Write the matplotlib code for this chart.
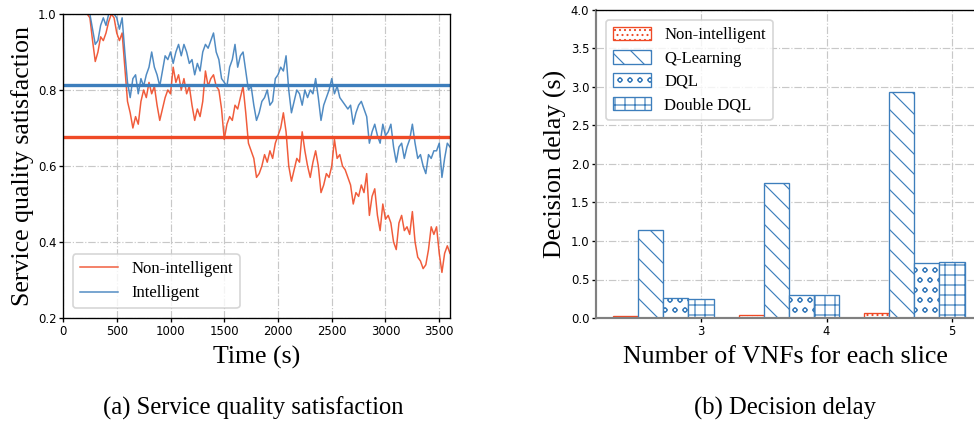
import numpy as np
import matplotlib
matplotlib.use('Agg')
import matplotlib.pyplot as plt

plt.rcParams['hatch.linewidth'] = 0.7

SERIF = ['Liberation Serif', 'DejaVu Serif']
RED = '#ef4a26'
BLUE = '#3d7ebc'

# (a) service quality satisfaction, sampled every 25 s
time_s = np.arange(0, 3601, 25)
non_intelligent = [
    1.0, 1.0, 1.0, 1.0, 1.0, 1.0, 1.0, 1.0,
    1.0, 1.0, 0.99, 0.93, 0.875, 0.90, 0.94, 0.93,
    0.95, 0.98, 1.0, 0.99, 0.95, 0.93, 0.95, 0.86,
    0.77, 0.74, 0.70, 0.73, 0.71, 0.77, 0.80, 0.78,
    0.82, 0.79, 0.81, 0.76, 0.72, 0.75, 0.78, 0.80,
    0.79, 0.86, 0.82, 0.84, 0.80, 0.83, 0.79, 0.81,
    0.76, 0.72, 0.75, 0.73, 0.77, 0.85, 0.81, 0.83,
    0.84, 0.81, 0.80, 0.75, 0.67, 0.71, 0.73, 0.72,
    0.76, 0.75, 0.78, 0.81, 0.74, 0.66, 0.64, 0.62,
    0.57, 0.58, 0.60, 0.63, 0.61, 0.64, 0.62, 0.66,
    0.68, 0.70, 0.74, 0.69, 0.60, 0.56, 0.59, 0.62,
    0.61, 0.69, 0.64, 0.60, 0.57, 0.61, 0.64, 0.60,
    0.53, 0.55, 0.58, 0.57, 0.60, 0.67, 0.62, 0.63,
    0.60, 0.59, 0.57, 0.55, 0.50, 0.53, 0.52, 0.55,
    0.53, 0.58, 0.47, 0.52, 0.54, 0.47, 0.43, 0.50,
    0.46, 0.47, 0.45, 0.40, 0.38, 0.45, 0.47, 0.43,
    0.44, 0.42, 0.48, 0.40, 0.36, 0.35, 0.33, 0.34,
    0.38, 0.44, 0.42, 0.44, 0.37, 0.32, 0.37, 0.39,
    0.37,
]
intelligent = [
    1.0, 1.0, 1.0, 1.0, 1.0, 1.0, 1.0, 1.0,
    1.0, 1.0, 1.0, 0.96, 0.92, 0.93, 0.97, 0.99,
    0.97, 1.0, 1.0, 1.0, 0.99, 0.96, 0.99, 0.90,
    0.82, 0.78, 0.83, 0.84, 0.79, 0.83, 0.81, 0.84,
    0.86, 0.90, 0.86, 0.84, 0.81, 0.85, 0.89, 0.88,
    0.90, 0.87, 0.90, 0.92, 0.89, 0.92, 0.90, 0.87,
    0.88, 0.84, 0.87, 0.85, 0.90, 0.92, 0.91, 0.93,
    0.95, 0.90, 0.88, 0.83, 0.82, 0.81, 0.86, 0.88,
    0.92, 0.86, 0.89, 0.90, 0.85, 0.80, 0.81, 0.76,
    0.72, 0.74, 0.77, 0.78, 0.80, 0.76, 0.77, 0.83,
    0.84, 0.86, 0.85, 0.89, 0.80, 0.74, 0.77, 0.80,
    0.79, 0.76, 0.80, 0.78, 0.80, 0.79, 0.83, 0.78,
    0.72, 0.76, 0.78, 0.80, 0.83, 0.79, 0.81, 0.78,
    0.77, 0.76, 0.75, 0.76, 0.71, 0.74, 0.76, 0.77,
    0.75, 0.73, 0.66, 0.69, 0.71, 0.68, 0.66, 0.71,
    0.68, 0.69, 0.71, 0.65, 0.61, 0.65, 0.66, 0.62,
    0.65, 0.67, 0.71, 0.66, 0.62, 0.63, 0.60, 0.58,
    0.63, 0.62, 0.64, 0.64, 0.66, 0.57, 0.62, 0.66,
    0.65,
]
mean_non_intelligent = 0.676
mean_intelligent = 0.812

# (b) decision delay
vnf_counts = [3, 4, 5]
delay_labels = ['Non-intelligent', 'Q-Learning', 'DQL', 'Double DQL']
delay_non_intelligent = [0.02, 0.04, 0.07]
delay_qlearning = [1.14, 1.75, 2.94]
delay_dql = [0.26, 0.30, 0.72]
delay_double_dql = [0.25, 0.30, 0.73]

fig = plt.figure(figsize=(974 / 120, 425 / 120), dpi=120)

# ---- left panel
ax1 = fig.add_axes([63 / 974, 107 / 425, 387 / 974, 304 / 425])
ax1.plot(time_s, non_intelligent, color=RED, lw=0.9, alpha=0.9, label='Non-intelligent')
ax1.plot(time_s, intelligent, color=BLUE, lw=0.9, alpha=0.9, label='Intelligent')
ax1.axhline(mean_non_intelligent, color=RED, lw=2.0)
ax1.axhline(mean_intelligent, color=BLUE, lw=2.0)
ax1.set_xlim(0, 3600)
ax1.set_ylim(0.2, 1.0)
ax1.set_xticks(range(0, 3600, 500))
ax1.set_yticks([0.2, 0.4, 0.6, 0.8, 1.0])
ax1.grid(True, ls='-.', color='#c8c8c8', lw=0.7)
ax1.set_axisbelow(True)
ax1.tick_params(labelsize=7, length=2.5, pad=1.5)
ax1.set_xlabel('Time (s)', family=SERIF, fontsize=15.5, labelpad=5)
ax1.set_ylabel('Service quality satisfaction', family=SERIF, fontsize=15.5, labelpad=2)
ax1.legend(loc='lower left', prop={'family': SERIF, 'size': 10},
           handlelength=2.3, borderaxespad=0.6)
for s in ax1.spines.values():
    s.set_linewidth(0.8)

# ---- right panel
ax2 = fig.add_axes([596 / 974, 107 / 425, 378 / 974, 308 / 425])
x = np.array(vnf_counts, dtype=float)
w = 0.2
series = [delay_non_intelligent, delay_qlearning, delay_dql, delay_double_dql]
hatches = ['....', '\\\\', 'oo', '++']
colors = [RED, BLUE, BLUE, BLUE]
for k, (vals, h, c, lab) in enumerate(zip(series, hatches, colors, delay_labels)):
    ax2.bar(x - 0.6 + k * w, vals, width=w, facecolor='white', edgecolor=c,
            hatch=h, lw=0.8, label=lab)
ax2.set_xlim(2.163, 5.175)
ax2.set_ylim(0, 4.0)
ax2.set_xticks(vnf_counts)
ax2.set_yticks(np.arange(0, 4.01, 0.5))
ax2.grid(True, ls='-.', color='#c8c8c8', lw=0.7)
ax2.set_axisbelow(True)
ax2.tick_params(labelsize=7, length=2.5, pad=1.5)
ax2.set_xlabel('Number of VNFs for each slice', family=SERIF, fontsize=15.5, labelpad=5)
ax2.set_ylabel('Decision delay (s)', family=SERIF, fontsize=15.5, labelpad=2)
ax2.spines['right'].set_visible(False)
ax2.spines['left'].set_color('#808080')
ax2.spines['bottom'].set_color('#808080')
ax2.spines['left'].set_linewidth(1.3)
ax2.spines['bottom'].set_linewidth(1.3)
ax2.spines['top'].set_linewidth(0.8)
ax2.legend(loc='upper left', prop={'family': SERIF, 'size': 10},
           handlelength=2.3, handleheight=0.9, labelspacing=0.4,
           borderaxespad=0.6)

fig.text(253 / 974, 0.04, '(a) Service quality satisfaction', family=SERIF,
         fontsize=14.8, ha='center', va='center')
fig.text(785 / 974, 0.04, '(b) Decision delay', family=SERIF,
         fontsize=14.8, ha='center', va='center')

fig.savefig('out.png', dpi=120)
